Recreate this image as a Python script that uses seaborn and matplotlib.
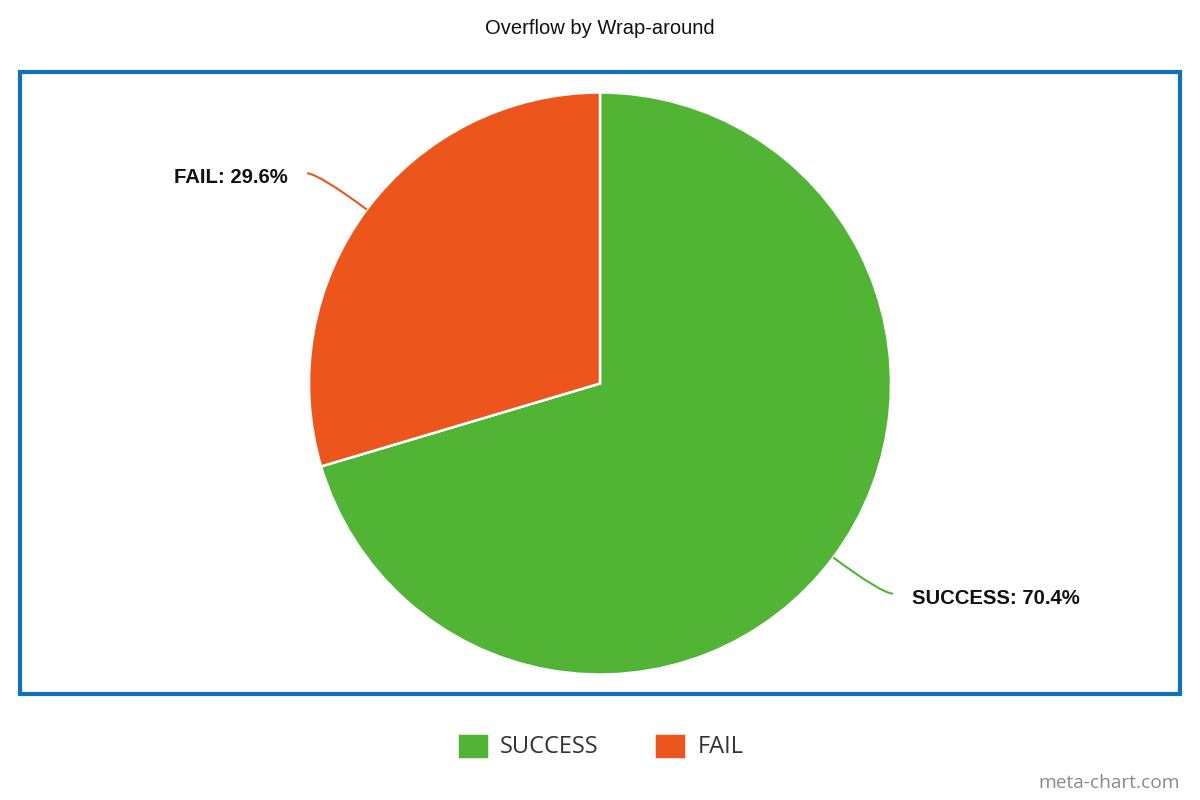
import matplotlib
matplotlib.use("Agg")
import matplotlib.pyplot as plt
import seaborn as sns
import numpy as np
from matplotlib.patches import Rectangle, PathPatch
from matplotlib.path import Path

categories = ["SUCCESS", "FAIL"]
values = [70.4, 29.6]
colors = ["#52b434", "#ec561d"]
title = "Overflow by Wrap-around"

sns.set_theme(style="white")
plt.rcParams['font.family'] = ['Liberation Sans', 'DejaVu Sans']

W, H = 1200, 800
fig = plt.figure(figsize=(12, 8), dpi=100)
ax = fig.add_axes([0, 0, 1, 1])

cx, cy, R = 600, H - 383.5, 291
wedges, _ = ax.pie(values, colors=colors, startangle=90, counterclock=False,
                   center=(cx, cy), radius=R, frame=True,
                   wedgeprops=dict(edgecolor='white', linewidth=1.8))
ax.set_xlim(0, W)
ax.set_ylim(0, H)
ax.set_aspect('equal')
ax.axis('off')

# border box
ax.add_patch(Rectangle((20, H - 694), 1160, 622, fill=False,
                       edgecolor='#1070b8', linewidth=3.0, zorder=5))

# labels with curved leader lines
for w, cat, val, col in zip(wedges, categories, values, colors):
    mid = np.deg2rad((w.theta1 + w.theta2) / 2)
    c, s = np.cos(mid), np.sin(mid)
    side = 1 if c > 0 else -1
    p0 = (cx + R * c, cy + R * s)
    pc = (cx + 1.2 * R * c, cy + 1.2 * R * s)
    p1 = (pc[0] + side * 13, pc[1] + np.sign(s) * 1.5)
    path = Path([p0, pc, p1], [Path.MOVETO, Path.CURVE3, Path.CURVE3])
    ax.add_patch(PathPatch(path, fill=False, edgecolor=col, linewidth=1.5))
    ax.text(p1[0] + side * 19, p1[1] - 4.5, f"{cat}: {val}%",
            ha='left' if side > 0 else 'right', va='center',
            fontsize=14.6, fontweight='bold', color='#111111')

fig.text(0.5, 1 - 28 / H, title, ha='center', va='center',
         fontsize=14.5, color='#111111')

leg = ax.legend(wedges, categories, loc='center',
                bbox_to_anchor=(600 / W, 1 - 746 / H), ncol=2, frameon=False,
                handlelength=1.36, handleheight=1.33, handletextpad=0.47,
                columnspacing=2.37, prop={'family': 'Open Sans', 'size': 17})
for t in leg.get_texts():
    t.set_color('#333333')

fig.text(1180 / W, 1 - 783 / H, "meta-chart.com", ha='right', va='center',
         fontsize=13.8, color='#8a8a8a', family='Open Sans')

fig.savefig("out.png", dpi=100, facecolor='white')
